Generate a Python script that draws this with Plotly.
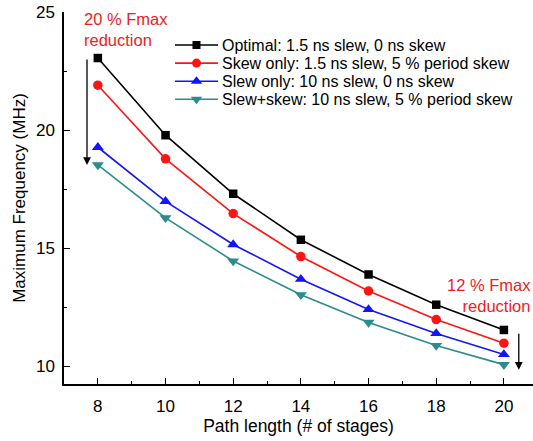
import plotly.graph_objects as go

# Path length (number of stages)
stages = [8, 10, 12, 14, 16, 18, 20]

# Maximum frequency (MHz) for each clocking condition
optimal = [23.05, 19.78, 17.3, 15.35, 13.88, 12.6, 11.53]
skew_only = [21.9, 18.78, 16.46, 14.64, 13.18, 11.97, 10.97]
slew_only = [19.27, 16.98, 15.15, 13.68, 12.4, 11.38, 10.49]
slew_skew = [18.52, 16.28, 14.45, 13.02, 11.85, 10.87, 10.06]

series_names = [
    "Optimal: 1.5 ns slew, 0 ns skew",
    "Skew only: 1.5 ns slew, 5 % period skew",
    "Slew only: 10 ns slew, 0 ns skew",
    "Slew+skew: 10 ns slew, 5 % period skew",
]
series_values = [optimal, skew_only, slew_only, slew_skew]
colors = ["#000000", "#ff1414", "#1414ff", "#2a8c8c"]
symbols = ["square", "circle", "triangle-up", "triangle-down"]
marker_sizes = [8.5, 9.5, 10.5, 10.5]

FONT = "Liberation Sans, Arial, sans-serif"
W, H = 533, 441
L, R, T, B = 64, 0, 12, 57

fig = go.Figure()
for name, vals, col, sym, ms in zip(series_names, series_values, colors, symbols, marker_sizes):
    fig.add_trace(go.Scatter(
        x=stages, y=vals, name=name, mode="lines+markers", showlegend=False,
        line=dict(color=col, width=1.6),
        marker=dict(symbol=sym, size=ms, color=col),
    ))

# Compact legend drawn on an overlay axis measured in pixels
leg_x0, leg_x1, leg_y0, leg_dy = 175, 218, 45, 18.1
for i, (name, col, sym, ms) in enumerate(zip(series_names, colors, symbols, marker_sizes)):
    yy = leg_y0 + i * leg_dy
    fig.add_trace(go.Scatter(
        x=[leg_x0, (leg_x0 + leg_x1) / 2, leg_x1], y=[yy, yy, yy],
        xaxis="x2", yaxis="y2", mode="lines", showlegend=False, hoverinfo="skip",
        line=dict(color=col, width=1.6),
    ))
    fig.add_trace(go.Scatter(
        x=[(leg_x0 + leg_x1) / 2], y=[yy],
        xaxis="x2", yaxis="y2", mode="markers", showlegend=False, hoverinfo="skip",
        marker=dict(symbol=sym, size=ms - 0.5, color=col),
    ))
    fig.add_annotation(x=leg_x1 + 2, y=yy, xref="x2", yref="y2",
                       xanchor="left", yanchor="middle", showarrow=False,
                       text=name, font=dict(family=FONT, size=16, color="#000"))

# Arrows spanning the spread between best and worst case
fig.add_annotation(x=7.68, y=slew_skew[0], ax=7.68, ay=optimal[0],
                   xref="x", yref="y", axref="x", ayref="y",
                   showarrow=True, arrowhead=2, arrowsize=1.2, arrowwidth=1.3,
                   arrowcolor="#000000", text="")
fig.add_annotation(x=20.44, y=slew_skew[-1] - 0.22, ax=20.44, ay=optimal[-1] - 0.1,
                   xref="x", yref="y", axref="x", ayref="y",
                   showarrow=True, arrowhead=2, arrowsize=1.2, arrowwidth=1.3,
                   arrowcolor="#000000", text="")

fig.add_annotation(x=7.53, y=24.25, xref="x", yref="y", xanchor="left", yanchor="middle",
                   text="20 % Fmax<br>reduction", showarrow=False, align="left",
                   font=dict(family=FONT, size=16.5, color="#ee1c25"))
fig.add_annotation(x=1.0, y=13.0, xref="paper", yref="y", xanchor="right", yanchor="middle",
                   text="12 % Fmax<br>reduction", showarrow=False, align="right",
                   font=dict(family=FONT, size=16.5, color="#ee1c25"))

axis_common = dict(ticks="inside", ticklen=6, tickwidth=1.3, tickcolor="#000",
                   showline=True, linecolor="#000", linewidth=1.5, showgrid=False,
                   zeroline=False, tickfont=dict(size=17))

fig.update_layout(
    width=W, height=H,
    margin=dict(l=L, r=R, t=T, b=B),
    paper_bgcolor="white", plot_bgcolor="white",
    font=dict(family=FONT, size=17, color="#000000"),
    showlegend=False,
    xaxis=dict(range=[7, 20.86], tickvals=[8, 10, 12, 14, 16, 18, 20],
               minor=dict(tickvals=[9, 11, 13, 15, 17, 19], ticks="inside", ticklen=3,
                          tickwidth=1.3, tickcolor="#000"),
               ticklabelstandoff=6,
               title=dict(text="Path length (# of stages)", font=dict(size=17.5), standoff=2),
               **axis_common),
    yaxis=dict(range=[9.24, 25], tickvals=[10, 15, 20, 25],
               minor=dict(tickvals=[12.5, 17.5, 22.5], ticks="inside", ticklen=3,
                          tickwidth=1.3, tickcolor="#000"),
               ticklabelstandoff=4,
               title=dict(text="Maximum Frequency (MHz)", font=dict(size=17), standoff=6),
               **axis_common),
    xaxis2=dict(overlaying="x", range=[L, W - R], visible=False, fixedrange=True),
    yaxis2=dict(overlaying="y", range=[H - B, T], visible=False, fixedrange=True),
)

fig.write_html("out.html")
